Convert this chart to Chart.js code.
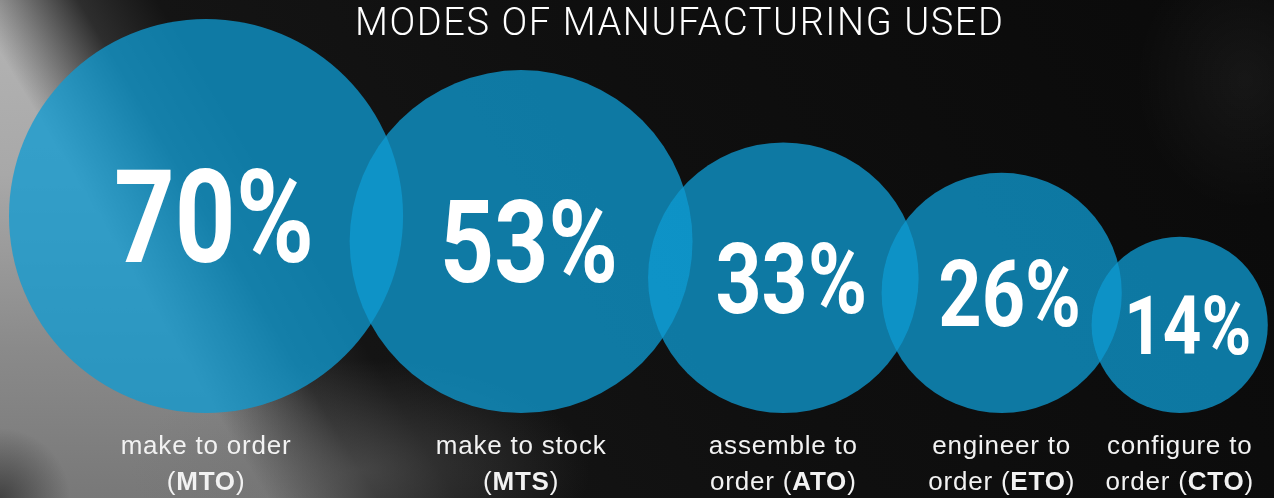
<!DOCTYPE html>
<html lang="en">
<head>
<meta charset="UTF-8" />
<title>Modes of Manufacturing Used</title>
<script src="https://cdn.jsdelivr.net/npm/chart.js"></script>
<style>
  html, body { margin: 0; padding: 0; background: #0b0b0b; }
  #stage {
    position: relative;
    width: 1274px;
    height: 498px;
    overflow: hidden;
    background:
      radial-gradient(ellipse 110px 130px at 1245px 80px, rgba(255,255,255,0.05), rgba(255,255,255,0) 100%),
      radial-gradient(ellipse 70px 70px at 0px 498px, rgba(30,30,30,0.6), rgba(30,30,30,0) 100%),
      radial-gradient(ellipse 230px 110px at 360px 470px, rgba(110,110,110,0.45), rgba(110,110,110,0) 100%),
      linear-gradient(59deg, rgba(14,14,14,0) 0%, rgba(14,14,14,0) 17%, rgba(22,22,22,0.85) 24%, #141414 29%, #0f0f0f 55%, #0a0a0a 100%),
      linear-gradient(180deg, #b5b5b5 0%, #a8a8a8 35%, #8a8a8a 70%, #787878 100%);
  }
  #title {
    position: absolute;
    left: 355px;
    top: 3px;
    font: 300 38px Roboto, 'Open Sans', sans-serif;
    letter-spacing: 1.6px;
    line-height: 38px;
    color: #fff;
    white-space: nowrap;
  }
  #plot { position: absolute; left: 0; top: 0; width: 1274px; height: 498px; }
</style>
</head>
<body>
  <div id="stage">
    <div id="plot"><canvas id="chart"></canvas></div>
    <div id="title">MODES OF MANUFACTURING USED</div>
  </div>

<script>
// share of respondents using each mode
const modes = ['make to order', 'make to stock', 'assemble to order', 'engineer to order', 'configure to order'];
const codes = ['MTO', 'MTS', 'ATO', 'ETO', 'CTO'];
const shares = [70, 53, 33, 26, 14];

// caption lines under each bubble
const captionTop = ['make to order', 'make to stock', 'assemble to', 'engineer to', 'configure to'];
const captionLead = ['', '', 'order ', 'order ', 'order '];

// bubble area follows the percentage
const PX_PER_ROOT = 23.55;
const LEFT_INSET = 9;
const TUCK = 0.145; // how far each bubble slides under its neighbour

const radii = shares.map(v => PX_PER_ROOT * Math.sqrt(v));
const centres = [];
radii.forEach((r, i) => {
  if (i === 0) centres.push(LEFT_INSET + r);
  else centres.push(centres[i - 1] + (radii[i - 1] + r) * (1 - TUCK));
});

// y = r keeps every bubble sitting on the same baseline (value 0)
const points = shares.map((v, i) => ({ x: centres[i], y: radii[i], r: radii[i] }));

const bubbleText = {
  id: 'bubbleText',
  afterDatasetsDraw(chart) {
    const ctx = chart.ctx;
    const base = chart.scales.y.getPixelForValue(0);
    chart.getDatasetMeta(0).data.forEach((pt, i) => {
      // big percentage inside the bubble
      const cap = 50 + 0.6 * shares[i];
      ctx.save();
      ctx.fillStyle = '#ffffff';
      ctx.font = `bold ${cap / 0.711}px Roboto, 'DejaVu Sans', sans-serif`;
      ctx.textAlign = 'center';
      ctx.textBaseline = 'alphabetic';
      ctx.translate(pt.x + 8, pt.y + cap / 2);
      ctx.scale(0.82, 1);
      ctx.fillText(shares[i] + '%', 0, 0);
      ctx.restore();

      // caption, second line has the bold code in brackets
      ctx.save();
      ctx.fillStyle = '#f2f2f2';
      ctx.textBaseline = 'alphabetic';
      ctx.letterSpacing = '0.8px';
      const reg = "26px 'Liberation Sans', Arial, sans-serif";
      const bold = "bold 26px 'Liberation Sans', Arial, sans-serif";
      ctx.font = reg;
      ctx.textAlign = 'center';
      ctx.fillText(captionTop[i], pt.x, base + 41);

      const parts = [
        [captionLead[i] + '(', reg],
        [codes[i], bold],
        [')', reg]
      ];
      let total = 0;
      parts.forEach(([t, f]) => { ctx.font = f; total += ctx.measureText(t).width; });
      let x = pt.x - total / 2;
      ctx.textAlign = 'left';
      parts.forEach(([t, f]) => {
        ctx.font = f;
        ctx.fillText(t, x, base + 77);
        x += ctx.measureText(t).width;
      });
      ctx.restore();
    });
  }
};

new Chart(document.getElementById('chart'), {
  type: 'bubble',
  data: {
    labels: modes,
    datasets: [{
      data: points,
      backgroundColor: 'rgba(15, 155, 210, 0.76)',
      borderWidth: 0,
      hoverBorderWidth: 0,
      hoverRadius: 0
    }]
  },
  options: {
    responsive: true,
    maintainAspectRatio: false,
    animation: false,
    events: [],
    layout: { padding: 0, autoPadding: false },
    plugins: {
      legend: { display: false },
      tooltip: { enabled: false }
    },
    scales: {
      x: { type: 'linear', min: 0, max: 1274, display: false },
      y: { type: 'linear', min: -85, max: 413, display: false }
    }
  },
  plugins: [bubbleText]
});
</script>
</body>
</html>
